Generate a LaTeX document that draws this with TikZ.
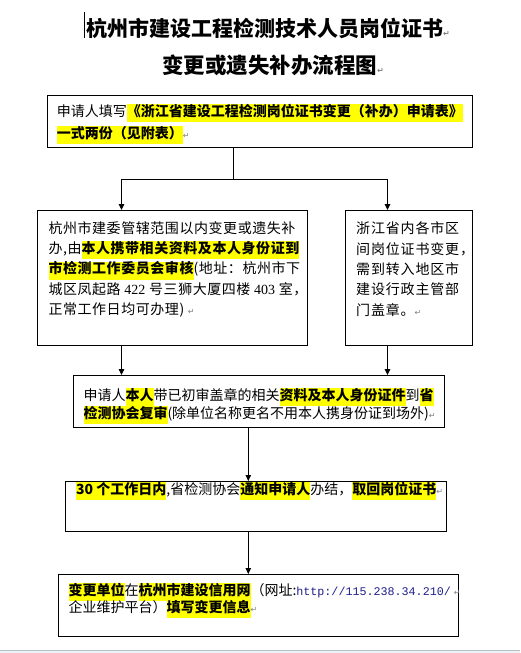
\documentclass[tikz,border=0pt]{standalone}
\usepackage{fontspec}
\setmainfont{Noto Sans CJK SC}
\newfontfamily\dejavu{DejaVu Sans}
\newfontfamily\monofam{Liberation Mono}
\newfontfamily\serifl{Liberation Serif}
\usetikzlibrary{arrows.meta}
\definecolor{hly}{HTML}{FFFF00}
\definecolor{urlblue}{HTML}{1E1E8C}
\definecolor{stripline}{HTML}{B4C0C8}
\definecolor{stripfill}{HTML}{EEF2F4}
\newcommand\zs{\rule[-0.4em]{0pt}{1.28em}}
\newcommand\hl[1]{{\setlength{\fboxsep}{0pt}\colorbox{hly}{\zs\bfseries #1}}}
\newcommand\rmk{{\dejavu\fontsize{8}{8}\selectfont\color{gray}↵}}
\newcommand\fsz[2]{\fontsize{#1}{#2}\selectfont\lineskiplimit-20pt\relax}
\newcommand\lsp[1]{\addfontfeature{LetterSpace=#1}}
\begin{document}
\begin{tikzpicture}[x=1pt,y=-1pt,
  boxst/.style={draw=black,line width=0.9pt,inner sep=0pt,outer sep=0pt,fill=white},
  txt/.style={inner sep=0pt,anchor=north west,align=left},
  conn/.style={draw=black,line width=0.9pt},
  arr/.style={-{Triangle[length=6pt,width=5.5pt]}},
  ttl/.style={inner sep=0pt,anchor=base west}]
\useasboundingbox (0,0) rectangle (520,653);
\fill[stripfill] (0,650) rectangle (520,653);
\draw[stripline,line width=0.8pt] (0,650) -- (520,650);

% titles
\draw[line width=1pt] (84,12) -- (84,38);
\node[ttl,font=\fsz{21}{21}\bfseries] (title1) at (86,36) {杭州市建设工程检测技术人员岗位证书\rmk};
\node[ttl,font=\fsz{21.5}{21.5}\bfseries] (title2) at (162,73.2) {变更或遗失补办流程图\rmk};

% boxes
\node[boxst,minimum width=425pt,minimum height=52pt] (b1) at (259.5,121) {};
\node[boxst,minimum width=270pt,minimum height=135pt] (b2) at (172,277.5) {};
\node[boxst,minimum width=127pt,minimum height=135pt] (b3) at (408.5,277.5) {};
\node[boxst,minimum width=371pt,minimum height=52pt] (b4) at (258.5,401) {};
\node[boxst,minimum width=381pt,minimum height=50pt] (b5) at (255.5,506) {};
\node[boxst,minimum width=400pt,minimum height=62pt] (b6) at (258,605) {};

% texts
\node[txt,font=\fsz{14}{22}] (t1) at (56.7,103.7)
 {\zs 申请人填写\hl{《浙江省建设工程检测岗位证书变更（补办）申请表》}\\
  \hl{一式两份（见附表）}\rmk};
\node[txt,font=\fsz{14}{20.2}\lsp{4}] (t2) at (48.3,221)
 {\zs 杭州市建委管辖范围以内变更或遗失补\\
  \zs 办,由\hl{本人携带相关资料及本人身份证到}\\
  \hl{市检测工作委员会审核}(地址：杭州市下\\
  \zs 城区凤起路 {\serifl 422} 号三狮大厦四楼 {\serifl 403} 室，\\
  \zs 正常工作日均可办理) \rmk};
\node[txt,font=\fsz{14}{20.3}\lsp{6}] (t3) at (356,221.3)
 {\zs 浙江省内各市区\\
  \zs 间岗位证书变更，\\
  \zs 需到转入地区市\\
  \zs 建设行政主管部\\
  \zs 门盖章。\rmk};
\node[txt,font=\fsz{14}{17.5}] (t4) at (83.3,388)
 {\zs 申请人\hl{本人}带已初审盖章的相关\hl{资料及本人身份证件}到\hl{省}\\
  \hl{检测协会复审}(除单位名称更名不用本人携身份证到场外)\rmk};
\node[txt,font=\fsz{14}{17.5}] (t5) at (76,482)
 {\hl{30 个工作日内},省检测协会\hl{通知申请人}办结，\hl{取回岗位证书}\rmk};
\node[txt,font=\fsz{14}{17.3}] (t6) at (68.3,583)
 {\hl{变更单位}在\hl{杭州市建设信用网}（网址:{\monofam\fontsize{11.7}{14}\selectfont\color{urlblue}http://115.238.34.210/} \rmk\\
  \zs 企业维护平台）\hl{填写变更信息}\rmk};

% connectors
\coordinate (jt) at (233.3,179);
\coordinate (jl) at (121.5,179);
\coordinate (jr) at (387.5,179);
\coordinate (ml) at (248.3,0);
\draw[conn] (b1.south -| jt) -- (jt);
\draw[conn] (jl) -- (jr);
\draw[conn,arr] (jl) -- (jl |- b2.north);
\draw[conn,arr] (jr) -- (jr |- b3.north);
\draw[conn,arr] (jl |- b2.south) -- (jl |- b4.north);
\draw[conn,arr] (jr |- b3.south) -- (jr |- b4.north);
\draw[conn,arr] (ml |- b4.south) -- (ml |- b5.north);
\draw[conn,arr] (ml |- b5.south) -- (ml |- b6.north);
\end{tikzpicture}
\end{document}
